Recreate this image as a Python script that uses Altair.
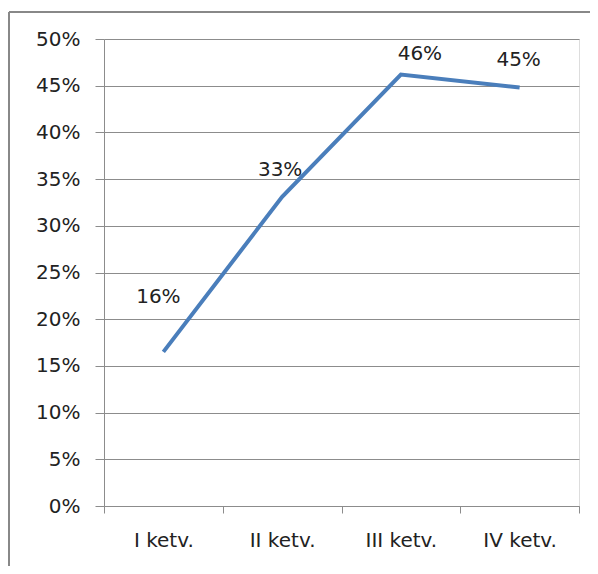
import altair as alt
import pandas as pd

quarters = ["I ketv.", "II ketv.", "III ketv.", "IV ketv."]
values = [0.165, 0.331, 0.462, 0.448]
labels = ["16%", "33%", "46%", "45%"]

df = pd.DataFrame({"q": quarters, "v": values, "lab": labels})

FONT = "DejaVu Sans"
GRID = "#8c8c8c"
FS = 20

x = alt.X("q:N", sort=quarters, title=None,
          scale=alt.Scale(paddingInner=0, paddingOuter=0),
          axis=alt.Axis(labelAngle=0, tickBand="extent", tickSize=7,
                        labelPadding=17, labelFontSize=FS, labelFont=FONT,
                        labelColor="#222222", domainColor=GRID, tickColor=GRID,
                        labelBaseline="top"))
y = alt.Y("v:Q", title=None,
          scale=alt.Scale(domain=[0, 0.5], nice=False),
          axis=alt.Axis(values=[i * 0.05 for i in range(11)], format=".0%",
                        tickSize=9, labelPadding=15, labelFontSize=FS,
                        labelFont=FONT, labelColor="#222222",
                        domainColor=GRID, tickColor=GRID, gridColor=GRID,
                        grid=True))

base = alt.Chart(df)
line = base.mark_line(color="#4a7ebb", strokeWidth=4).encode(x=x, y=y)

offsets = [(-5, -55), (-2, -27), (19, -20), (-1, -28)]
texts = []
for q, (dx, dy) in zip(quarters, offsets):
    texts.append(
        base.transform_filter(alt.datum.q == q)
        .mark_text(dx=dx, dy=dy, fontSize=FS, font=FONT, color="#222222")
        .encode(x=x, y=y, text="lab:N")
    )

frame_top = alt.Chart(df).mark_rule(color="#888888", strokeWidth=2).encode(
    x=alt.value(-95), x2=alt.value(500), y=alt.value(-27))
frame_left = alt.Chart(df).mark_rule(color="#888888", strokeWidth=2).encode(
    x=alt.value(-95), y=alt.value(-27), y2=alt.value(530))

chart = alt.layer(line, *texts, frame_top, frame_left).properties(
    width=475, height=467,
    padding={"left": 96, "top": 31, "right": 11, "bottom": 60},
    autosize=alt.AutoSizeParams(type="none"),
).configure_view(stroke=None).configure(background="white")

chart.save("out.html", embed_options={"renderer": "svg", "actions": False})
